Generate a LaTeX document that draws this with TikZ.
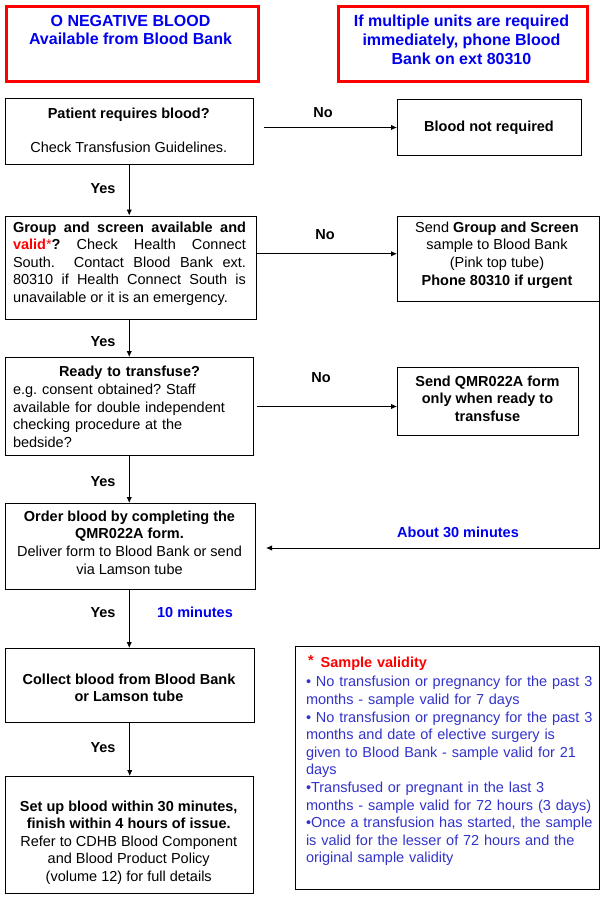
\documentclass[tikz,border=0pt]{standalone}
\usepackage{fontspec}
\setmainfont{Liberation Sans}
\usetikzlibrary{arrows.meta,calc}
\definecolor{hblue}{RGB}{0,0,238}
\definecolor{sblue}{RGB}{51,51,204}
\definecolor{hred}{RGB}{255,0,0}
\tolerance=10000
\hbadness=10000
\frenchspacing
\begin{document}
\frenchspacing
\begin{tikzpicture}[x=1pt,y=-1pt,
  font=\fontsize{14.5pt}{17.6pt}\selectfont,
  box/.style={draw, line width=1pt, inner sep=0pt, anchor=north west},
  redbox/.style={draw=hred, line width=3pt, inner sep=0pt, anchor=north west},
  txt/.style={inner sep=0pt, align=center},
  hdr/.style={inner sep=0pt, align=center, text=hblue, font=\fontsize{16pt}{18.8pt}\selectfont\bfseries},
  lbl/.style={inner sep=0pt, font=\fontsize{14.5pt}{17.6pt}\selectfont\bfseries},
  arr/.style={-{Latex[length=6pt,width=5.5pt]}, line width=0.9pt}]
\path[fill=white, use as bounding box] (0,0) rectangle (604,897);

% header boxes
\node[redbox, minimum width=252pt, minimum height=75pt] (red1) at (4.5,5) {};
\node[hdr] (red1t) at (130.5,30) {O NEGATIVE BLOOD\\Available from Blood Bank};
\node[redbox, minimum width=249pt, minimum height=75pt] (red2) at (337,5) {};
\node[hdr] (red2t) at (461.5,39.5) {If multiple units are required\\immediately, phone Blood\\Bank on ext 80310};

% main boxes
\node[box, minimum width=248.5pt, minimum height=65.5pt] (p) at (4.5,98) {};
\node[txt] (pt) at (128.75,130.5) {\textbf{Patient requires blood?}\\[16.9pt]Check Transfusion Guidelines.};

\node[box, minimum width=183.7pt, minimum height=56pt] (bnr) at (397,99) {};
\node[txt] (bnrt) at (489,128) {\textbf{Blood not required}};

\node[box, minimum width=251pt, minimum height=103.5pt] (g) at (5,215.5) {};
\node[inner sep=0pt, text width=233pt, align=justify] (gt) at (129.5,263.5) {\frenchspacing\textbf{Group and screen available and}\linebreak
{\color{hred}\textbf{valid}*}\textbf{?} Check Health Connect\linebreak
South.\ \ Contact Blood Bank ext.\linebreak
80310 if Health Connect South is\linebreak
unavailable or it is an emergency.};

\node[box, minimum width=202pt, minimum height=85.5pt] (gs) at (397,215.5) {};
\node[txt] (gst) at (497,255) {Send \textbf{Group and Screen}\\sample to Blood Bank\\(Pink top tube)\\\textbf{Phone 80310 if urgent}};

\node[box, minimum width=248.5pt, minimum height=98pt] (r) at (4.5,357) {};
\node[inner sep=0pt, text width=233pt, align=left] (rt) at (129.5,407) {\frenchspacing\hbox to\hsize{\hfil\textbf{Ready to transfuse?}\hfil}\\
e.g. consent obtained? Staff\\available for double independent\\checking procedure at the\\bedside?};

\node[box, minimum width=181pt, minimum height=68pt] (q) at (397,367) {};
\node[txt] (qt) at (487.5,398.8) {\textbf{Send QMR022A form}\\\textbf{only when ready to}\\\textbf{transfuse}};

\node[box, minimum width=250.5pt, minimum height=86pt] (o) at (4.5,503) {};
\node[txt] (ot) at (129.5,542.5) {\textbf{Order blood by completing the}\\\textbf{QMR022A form.}\\Deliver form to Blood Bank or send\\via Lamson tube};

\node[box, minimum width=249.5pt, minimum height=74pt] (c) at (4.5,648) {};
\node[txt] (ct) at (129,688) {\textbf{Collect blood from Blood Bank}\\\textbf{or Lamson tube}};

\node[box, minimum width=248.5pt, minimum height=117pt] (s) at (4.5,776) {};
\node[txt] (st) at (128.75,842.5) {\textbf{Set up blood within 30 minutes,}\\\textbf{finish within 4 hours of issue.}\\Refer to CDHB Blood Component\\and Blood Product Policy\\(volume 12) for full details};

\node[box, minimum width=304pt, minimum height=243.5pt] (sv) at (295,645.5) {};
\node[inner sep=0pt, text width=292pt, align=left, text=sblue] (svt) at (452,761) {{\color{hred}\bfseries\hspace*{2pt}\raisebox{2pt}{*}\hspace{7pt}Sample validity}\\[1.4pt]
• No transfusion or pregnancy for the past 3\\
months - sample valid for 7 days\\
• No transfusion or pregnancy for the past 3\\
months and date of elective surgery is\\
given to Blood Bank - sample valid for 21\\
days\\
•Transfused or pregnant in the last 3\\
months - sample valid for 72 hours (3 days)\\
•Once a transfusion has started, the sample\\
is valid for the lesser of 72 hours and the\\
original sample validity};

% labels
\node[lbl] (no1) at (323,113) {No};
\node[lbl] (no2) at (325,235) {No};
\node[lbl] (no3) at (321,378) {No};
\node[lbl] (yes1) at (103,189) {Yes};
\node[lbl] (yes2) at (103,342) {Yes};
\node[lbl] (yes3) at (103,482) {Yes};
\node[lbl] (yes4) at (103,613) {Yes};
\node[lbl] (yes5) at (103,748) {Yes};
\node[lbl, text=hblue] (t30) at (458,532) {About 30 minutes};
\node[lbl, text=hblue] (t10) at (195,612) {10 minutes};

% connectors
\draw[arr, shorten <=10pt] (p.east |- bnr.west) -- (bnr.west);
\draw[arr] ([yshift=14pt]g.east) -- ([yshift=14pt]g.east -| gs.west);
\draw[arr, shorten <=3pt] (r.east) -- (r.east -| q.west);
\coordinate (ret) at (599,548);
\draw[arr, line width=1pt, shorten >=10pt] (ret |- gs.south) -- (ret) -- (ret -| o.east);
\draw[arr] (p.south) -- (p.south |- g.north);
\draw[arr] (r.north |- g.south) -- (r.north);
\draw[arr] (r.south) -- (r.south |- o.north);
\draw[arr] (r.south |- o.south) -- (r.south |- c.north);
\draw[arr] (c.south) -- (c.south |- s.north);
\end{tikzpicture}
\end{document}
